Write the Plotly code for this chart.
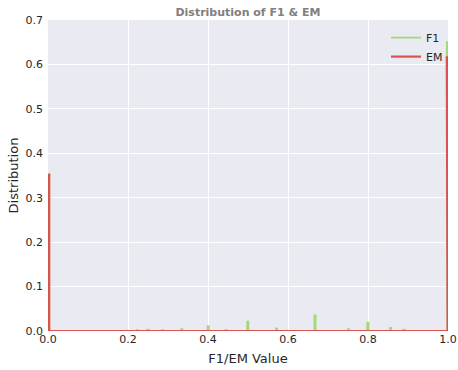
import math
import plotly.graph_objects as go

# F1 distribution: value positions and densities (fraction of samples)
f1_values = [0.0, 0.143, 0.167, 0.182, 0.2, 0.222, 0.25, 0.286, 0.333, 0.4, 0.444,
             0.5, 0.571, 0.667, 0.727, 0.75, 0.8, 0.857, 0.889, 0.909, 1.0]
f1_heights = [0.35, 0.001, 0.001, 0.001, 0.001, 0.002, 0.003, 0.002, 0.004, 0.011, 0.002,
              0.021, 0.006, 0.035, 0.001, 0.004, 0.019, 0.007, 0.003, 0.001, 0.65]

# EM distribution
em_values = [0.0, 1.0]
em_heights = [0.352, 0.616]

x_ticks = [0.0, 0.2, 0.4, 0.6, 0.8, 1.0]
y_ticks = [0.0, 0.1, 0.2, 0.3, 0.4, 0.5, 0.6, 0.7]

BIN = 0.003
NBINS = int(math.ceil(1 / BIN))


def step_outline(values, heights):
    bins = [0.0] * NBINS
    for v, h in zip(values, heights):
        i = min(int(math.floor(v / BIN + 1e-9)), NBINS - 1)
        bins[i] += h
    xs, ys = [0.0], [0.0]
    for i, h in enumerate(bins):
        left, right = i * BIN, (i + 1) * BIN
        if i == NBINS - 1:
            left, right = 1.0 - BIN, 1.0
        xs += [left, right]
        ys += [h, h]
    xs.append(1.0)
    ys.append(0.0)
    return xs, ys


fx, fy = step_outline(f1_values, f1_heights)
ex, ey = step_outline(em_values, em_heights)

fig = go.Figure()
fig.add_trace(go.Scatter(x=fx, y=fy, mode="lines", name="F1",
                         line=dict(color="#a3d977", width=1.8), hoverinfo="skip"))
fig.add_trace(go.Scatter(x=ex, y=ey, mode="lines", name="EM",
                         line=dict(color="#d9534f", width=2.2), hoverinfo="skip"))

fig.update_layout(
    width=458, height=370,
    margin=dict(l=48, r=10, t=20, b=39, autoexpand=False),
    paper_bgcolor="white",
    plot_bgcolor="#eaeaf2",
    font=dict(family="DejaVu Sans", size=11, color="#262626"),
    title=dict(text="<b>Distribution of F1 & EM</b>", x=0.5413, xanchor="center",
               y=0.968, yanchor="middle", yref="container",
               font=dict(size=11, color="#808080")),
    legend=dict(x=1.0, y=0.99, xanchor="right", yanchor="top",
                bgcolor="rgba(0,0,0,0)", font=dict(size=11, color="#262626"),
                itemwidth=30, tracegroupgap=0),
    showlegend=True,
)
fig.update_xaxes(range=[0, 1], tickvals=x_ticks, ticktext=[f"{t:.1f}" for t in x_ticks],
                 showgrid=True, gridcolor="white", gridwidth=1, zeroline=False,
                 showline=False, ticks="", automargin=False,
                 title=dict(text="F1/EM Value", standoff=8),
                 tickfont=dict(size=11))
fig.update_yaxes(range=[0, 0.7], tickvals=y_ticks, ticktext=[f"{t:.1f}" for t in y_ticks],
                 showgrid=True, gridcolor="white", gridwidth=1, zeroline=False,
                 showline=False, ticks="", automargin=False, ticklabelstandoff=4,
                 title=dict(text="Distribution", standoff=3),
                 tickfont=dict(size=11))

fig.write_html("out.html", config={"displayModeBar": False},
               post_script="document.body.style.margin='0';")
